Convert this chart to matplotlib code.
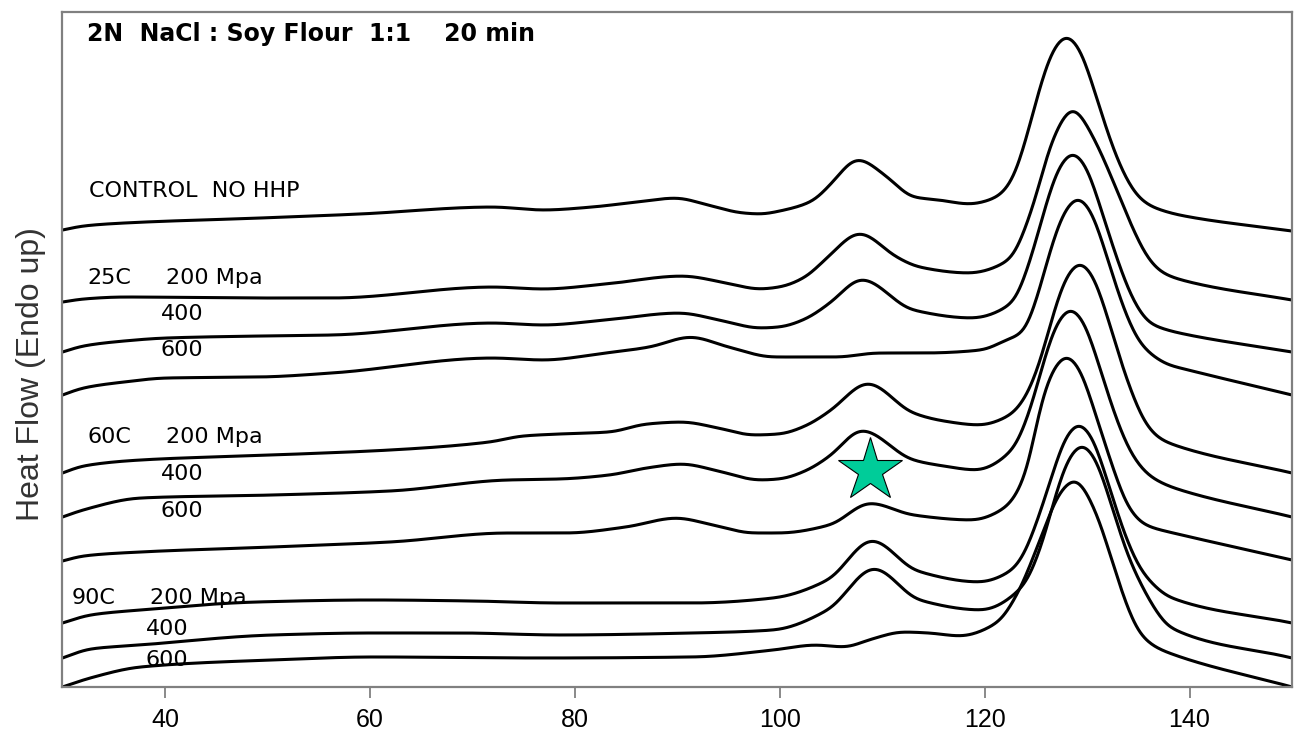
import numpy as np
import matplotlib
matplotlib.use('Agg')
import matplotlib.pyplot as plt

# DSC thermograms, 2N NaCl : soy flour 1:1, 20 min HHP treatment
# temperatures (C) and heat flow readings (arbitrary units, endo up)
t_control = [30, 32, 36, 49.3, 59, 72, 76.9, 81.7, 86, 89.9, 93, 96.4, 98.2, 100, 103.2, 104.9, 107.6, 110.5,
             113, 115.6, 118.5, 121.2, 122.7, 124.1, 125.4, 126.7, 128, 129.3, 130.6, 132.5, 134, 135.1,
             136.2, 137.5, 139, 150]
hf_control = [457, 461, 464, 469, 473, 480, 477, 480, 485, 489, 482, 474, 473, 476, 486, 502, 528, 510,
              490, 487, 483, 490, 507, 550, 600, 638, 652, 638, 600, 540, 505, 489,
              481, 476, 472, 456]

t_25_200 = [30, 32, 36, 49.3, 56.3, 72, 76.9, 83, 90.5, 94.8, 98, 100, 102.5, 104.5, 107.8, 111.4, 113.6,
            118.5, 122.4, 124.7, 126.6, 128.6, 130.6, 132.5, 134.4, 136, 137.4, 140, 150]
hf_25_200 = [385, 388, 390, 389, 389, 400, 398, 403, 411, 404, 398, 400, 410, 428, 454, 430, 420,
             414, 427, 480, 547, 579, 550, 507, 460, 428, 414, 405, 387]

t_25_400 = [30, 32, 36, 40.1, 49.3, 56.3, 72, 76.9, 83, 90.2, 94.5, 98, 100, 102.5, 104.9, 108, 113, 118.8,
            122.7, 124.7, 126, 127.3, 128.6, 129.9, 131.2, 133.1, 134.6, 136.1, 137.5, 139, 150]
hf_25_400 = [335, 341, 346, 349, 351, 352, 364, 362, 367, 374, 366, 359, 360, 368, 384, 408, 377, 369,
             384, 435, 483, 521, 535, 521, 483, 423, 385, 364, 358, 354, 335]

t_25_600 = [30, 32, 36, 40.1, 49.3, 56.3, 72, 76.9, 83, 87.3, 91.3, 95, 99.4, 105.6, 109.6, 114, 119.7, 122.1,
            123.8, 125.2, 126.5, 127.8, 129.1, 130.4, 131.7, 133.6, 135.1, 136.6, 138, 139.5, 150]
hf_25_600 = [292, 299, 305, 309, 310, 314, 329, 327, 334, 340, 350, 340, 330, 330, 334, 334, 337, 347,
             355, 392, 440, 476, 490, 476, 438, 378, 345, 330, 322, 318, 292]

t_60_200 = [30, 32, 37.6, 50.5, 62, 71.7, 74.9, 78.5, 83.4, 87, 90.5, 94, 97.4, 100, 102.5, 104.9, 108.6,
            113, 116, 119.5, 122.5, 124, 125.4, 126.7, 128, 129.3, 130.6, 131.9, 133.8, 135.8, 137, 138.5, 150]
hf_60_200 = [214, 221, 227, 232, 237, 245, 251, 253, 255, 263, 265, 259, 252, 253, 261, 276, 304,
             274, 266, 262, 272, 290, 325, 373, 411, 425, 411, 373, 310, 262, 249, 242, 214]

t_60_400 = [30, 32, 37.6, 50.5, 62, 73.4, 78.5, 83.4, 87, 90.5, 94, 98, 100, 102.5, 104.9, 108, 113, 116,
            119.2, 122.7, 124.5, 125.8, 127.1, 128.4, 129.7, 131, 132.9, 134.4, 136, 137.3, 138.5, 150]
hf_60_400 = [170, 177, 189, 192, 196, 207, 208, 212, 219, 223, 216, 207, 208, 216, 231, 257, 227, 221,
             217, 237, 279, 327, 365, 379, 365, 327, 267, 232, 212, 204, 199, 170]

t_60_600 = [30, 32, 37.6, 50.5, 62, 73.4, 79.2, 85, 89.9, 93.5, 97.4, 100, 104.9, 108.8, 113, 118.8, 122.1,
            124.1, 125.4, 126.7, 128, 129.3, 130.6, 132.5, 134, 135.5, 136.8, 138, 150]
hf_60_600 = [126, 131, 135, 140, 145, 154, 154, 160, 169, 162, 154, 154, 162, 184, 172, 167, 180,
             215, 280, 318, 332, 318, 280, 220, 180, 163, 158, 155, 127]

t_90_200 = [30, 32.7, 37.6, 49, 60.3, 70, 78.5, 91.5, 99.4, 104.7, 109, 113.4, 119.5, 122.7, 123.7, 125.4,
            126.6, 127.9, 129.2, 130.5, 131.8, 133.7, 135.2, 136.7, 138, 150]
hf_90_200 = [64, 72, 77, 85, 87, 86, 84, 84, 89, 107, 147, 116, 105, 117, 130, 174,
             212, 250, 264, 250, 212, 152, 118, 100, 90, 64]

t_90_400 = [30, 32.7, 37.6, 50.5, 60.3, 68.8, 78.5, 91.5, 99.4, 104.7, 109.2, 113.6, 119.7, 123.7, 125.6,
            126.9, 128.2, 129.5, 130.8, 132.1, 134, 135.5, 137, 138, 150]
hf_90_400 = [29, 38, 42, 52, 54, 54, 52, 54, 57, 77, 119, 87, 77, 100, 143,
             191, 229, 243, 229, 191, 131, 98, 72, 60, 29]

t_90_600 = [30, 32.7, 37.6, 50.5, 60.3, 76.6, 91.5, 99.4, 103.5, 106.3, 109, 112, 114.6, 117.6, 121.2,
            123.4, 125.4, 127.3, 128.8, 130.9, 132.5, 134, 135.1, 136.5, 138, 150]
hf_90_600 = [0, 9, 20, 27, 30, 29, 30, 37, 42, 40, 48, 55, 54, 51, 64,
             97, 147, 194, 208, 174, 124, 78, 54, 41, 34, 0]

# marked transition (star)
star_t = 108.8
star_hf = 217

curves = [(t_control, hf_control), (t_25_200, hf_25_200), (t_25_400, hf_25_400), (t_25_600, hf_25_600),
          (t_60_200, hf_60_200), (t_60_400, hf_60_400), (t_60_600, hf_60_600),
          (t_90_200, hf_90_200), (t_90_400, hf_90_400), (t_90_600, hf_90_600)]


def smooth(x, y, n=1201, sigma=0.6):
    # monotone cubic through the read points, lightly blurred, only for drawing a smooth trace
    x = np.asarray(x, float)
    y = np.asarray(y, float)
    h = np.diff(x)
    d = np.diff(y) / h
    m = np.zeros_like(y)
    for k in range(1, len(x) - 1):
        if d[k - 1] * d[k] > 0:
            w1 = 2 * h[k] + h[k - 1]
            w2 = h[k] + 2 * h[k - 1]
            m[k] = (w1 + w2) / (w1 / d[k - 1] + w2 / d[k])
    m[0] = d[0]
    m[-1] = d[-1]
    xn = np.linspace(x[0], x[-1], n)
    i = np.clip(np.searchsorted(x, xn) - 1, 0, len(h) - 1)
    t = (xn - x[i]) / h[i]
    yn = ((2 * t**3 - 3 * t**2 + 1) * y[i] + (t**3 - 2 * t**2 + t) * h[i] * m[i]
          + (-2 * t**3 + 3 * t**2) * y[i + 1] + (t**3 - t**2) * h[i] * m[i + 1])
    step = xn[1] - xn[0]
    half = int(3 * sigma / step)
    kern = np.exp(-0.5 * (np.arange(-half, half + 1) * step / sigma) ** 2)
    kern /= kern.sum()
    # odd reflection at both ends keeps the end points in place
    padded = np.concatenate([2 * yn[0] - yn[half:0:-1], yn, 2 * yn[-1] - yn[-2:-half - 2:-1]])
    return xn, np.convolve(padded, kern, mode='valid')


fig = plt.figure(figsize=(12.99, 7.43), dpi=100)
ax = fig.add_axes([0.0481, 0.0754, 0.9465, 0.9084])

for t, hf in curves:
    xs, ys = smooth(t, hf)
    ax.plot(xs, ys, color='black', lw=2.2, solid_capstyle='round')

ax.plot(star_t, star_hf, marker='*', ms=48, markerfacecolor='#00CC99',
        markeredgecolor='black', markeredgewidth=0.8, zorder=5)

ax.set_xlim(30, 150)
ax.set_ylim(0, 675)
ax.set_xticks([40, 60, 80, 100, 120, 140])
ax.set_yticks([])
for s in ax.spines.values():
    s.set_color('#808080')
    s.set_linewidth(1.6)
ax.tick_params(axis='x', direction='out', length=8, width=1.3, color='#808080',
               labelsize=18, pad=7)
for lab in ax.get_xticklabels():
    lab.set_family(['Liberation Sans', 'DejaVu Sans'])

ax.set_ylabel('Heat Flow (Endo up)', fontsize=23, color='#333333',
              family=['Liberation Sans', 'DejaVu Sans'])
ax.yaxis.set_label_coords(-0.013, 0.464)

ax.text(32.4, 653, '2N  NaCl : Soy Flour  1:1    20 min', fontsize=17, fontweight='bold',
        family=['DejaVu Sans'], va='center', ha='left')

lbl = dict(fontsize=16, family=['DejaVu Sans'], va='center', ha='left')
ax.text(32.6, 496, 'CONTROL  NO HHP', **lbl)
ax.text(32.4, 409, '25C', **lbl)
ax.text(40.1, 409, '200 Mpa', **lbl)
ax.text(39.6, 373, '400', **lbl)
ax.text(39.6, 337, '600', **lbl)
ax.text(32.4, 250, '60C', **lbl)
ax.text(40.1, 250, '200 Mpa', **lbl)
ax.text(39.6, 213, '400', **lbl)
ax.text(39.6, 176, '600', **lbl)
ax.text(30.9, 89, '90C', **lbl)
ax.text(38.5, 89, '200 Mpa', **lbl)
ax.text(38.1, 58, '400', **lbl)
ax.text(38.1, 27, '600', **lbl)

fig.savefig('out.png', dpi=100)
